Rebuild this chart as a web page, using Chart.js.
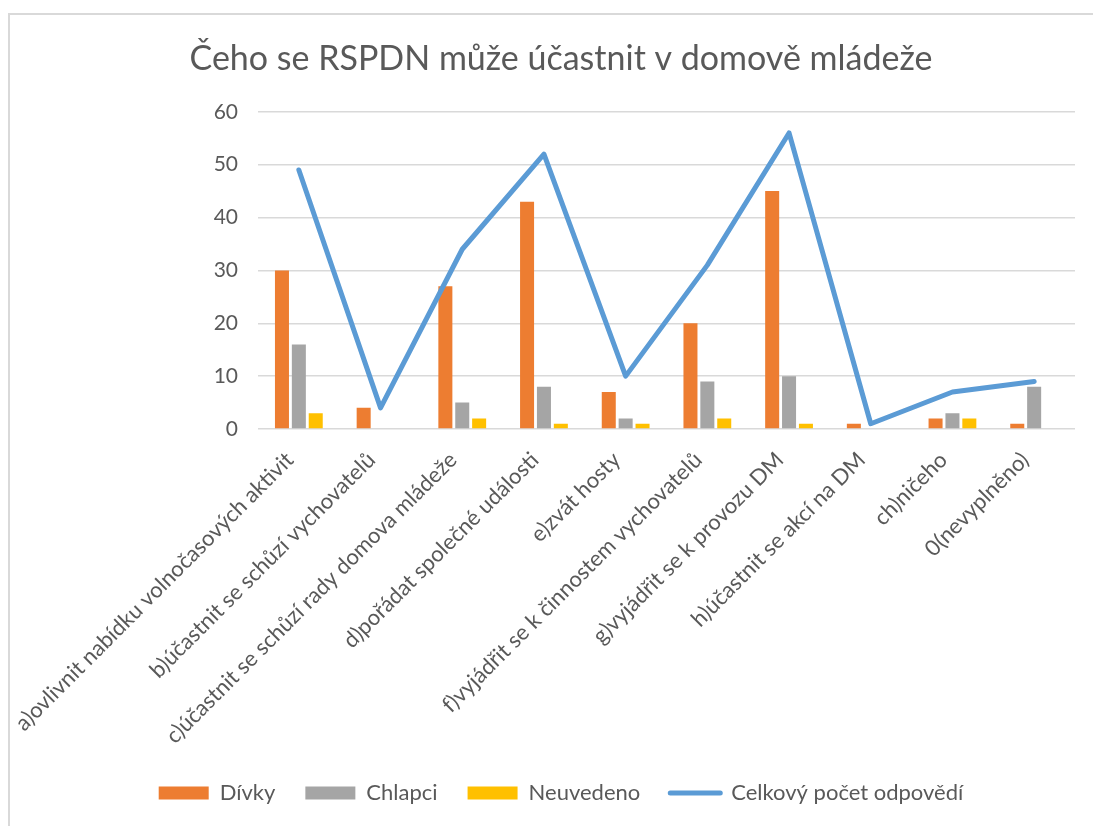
<!DOCTYPE html>
<html lang="cs">
<head>
    <meta charset="UTF-8" />
    <title>Čeho se RSPDN může účastnit v domově mládeže</title>
    <script src="https://cdn.jsdelivr.net/npm/chart.js"></script>
    <style>
        html, body { margin: 0; padding: 0; background: #fff; overflow: hidden; }
        .frame {
            position: absolute;
            left: 8px;
            top: 13px;
            width: 1200px;
            height: 900px;
            border: 2px solid #d9d9d9;
        }
        #chart {
            position: absolute;
            left: 0;
            top: 0;
        }
    </style>
</head>
<body>
    <div class="frame"></div>
    <canvas id="chart" width="1093" height="826"></canvas>

    <script>
        // data
        const categories = [
            'a)ovlivnit nabídku volnočasových aktivit',
            'b)účastnit se schůzí vychovatelů',
            'c)účastnit se schůzí rady domova mládeže',
            'd)pořádat společné události',
            'e)zvát hosty',
            'f)vyjádřit se k činnostem vychovatelů',
            'g)vyjádřit se k provozu DM',
            'h)účastnit se akcí na DM',
            'ch)ničeho',
            '0(nevyplněno)'
        ];
        const divky = [30, 4, 27, 43, 7, 20, 45, 1, 2, 1];
        const chlapci = [16, 0, 5, 8, 2, 9, 10, 0, 3, 8];
        const neuvedeno = [3, 0, 2, 1, 1, 2, 1, 0, 2, 0];
        const celkem = [49, 4, 34, 52, 10, 31, 56, 1, 7, 9];
        const yTicks = [0, 10, 20, 30, 40, 50, 60];

        const textColor = '#595959';
        const fontFamily = 'Lato, "Open Sans", sans-serif';

        const ctx = document.getElementById('chart').getContext('2d');
        new Chart(ctx, {
            data: {
                labels: categories,
                datasets: [
                    { type: 'bar', label: 'Dívky', data: divky, backgroundColor: '#ED7D31', order: 1,
                      categoryPercentage: 0.62, barPercentage: 0.83 },
                    { type: 'bar', label: 'Chlapci', data: chlapci, backgroundColor: '#A5A5A5', order: 1,
                      categoryPercentage: 0.62, barPercentage: 0.83 },
                    { type: 'bar', label: 'Neuvedeno', data: neuvedeno, backgroundColor: '#FFC000', order: 1,
                      categoryPercentage: 0.62, barPercentage: 0.83 },
                    { type: 'line', label: 'Celkový počet odpovědí', data: celkem, order: 0,
                      borderColor: '#5B9BD5', backgroundColor: '#5B9BD5', borderWidth: 5,
                      borderCapStyle: 'round', borderJoinStyle: 'round',
                      pointRadius: 0, tension: 0, fill: false }
                ]
            },
            options: {
                responsive: false,
                animation: false,
                layout: { padding: { left: 47, right: 18, top: 0, bottom: 12 } },
                scales: {
                    x: {
                        grid: { display: false },
                        border: { display: false },
                        ticks: {
                            color: textColor,
                            font: { family: fontFamily, size: 22 },
                            minRotation: 45,
                            maxRotation: 45,
                            autoSkip: false,
                            padding: 10,
                            labelOffset: -9
                        },
                        afterFit: (scale) => { scale.height = 323; }
                    },
                    y: {
                        min: 0,
                        max: 60,
                        afterBuildTicks: (scale) => { scale.ticks = yTicks.map(v => ({ value: v })); },
                        grid: { color: '#d9d9d9', lineWidth: 1.5, drawTicks: false },
                        border: { display: false },
                        ticks: {
                            color: textColor,
                            font: { family: fontFamily, size: 21 },
                            padding: 20
                        },
                        afterFit: (scale) => { scale.width = 211; }
                    }
                },
                plugins: {
                    tooltip: { enabled: false },
                    title: {
                        display: true,
                        text: 'Čeho se RSPDN může účastnit v domově mládeže',
                        color: textColor,
                        font: { family: fontFamily, size: 34, weight: 'normal' },
                        padding: { top: 39, bottom: 32 }
                    },
                    legend: {
                        position: 'bottom',
                        labels: {
                            color: textColor,
                            font: { family: fontFamily, size: 22 },
                            usePointStyle: true,
                            pointStyleWidth: 50,
                            boxWidth: 50,
                            boxHeight: 13,
                            padding: 30,
                            sort: (a, b) => a.datasetIndex - b.datasetIndex,
                            generateLabels: (chart) => {
                                const items = Chart.defaults.plugins.legend.labels.generateLabels(chart);
                                items.forEach(item => {
                                    const ds = chart.data.datasets[item.datasetIndex];
                                    if (ds.type === 'line') {
                                        item.pointStyle = 'line';
                                        item.lineWidth = 5;
                                        item.lineCap = 'round';
                                    } else {
                                        item.pointStyle = 'rect';
                                        item.lineWidth = 0;
                                    }
                                });
                                return items;
                            }
                        }
                    }
                }
            }
        });
    </script>
</body>
</html>
